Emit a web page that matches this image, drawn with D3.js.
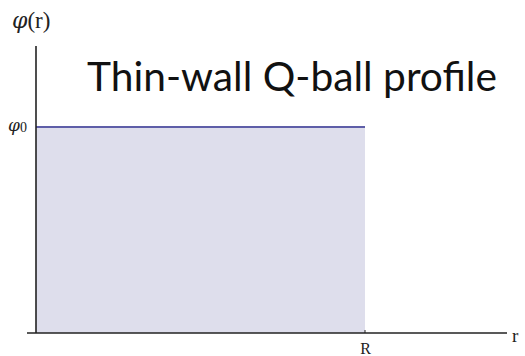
<!DOCTYPE html>
<html><head><meta charset="utf-8">
<script src="https://cdn.jsdelivr.net/npm/d3@7"></script>
<style>html,body{margin:0;padding:0;background:#fff;}svg{display:block;}</style>
</head><body>
<script>
// Data
const profileR = [0, 1];        // r values (units of R)
const profilePhi = [1, 1];      // φ(r) in units of φ0 (thin wall: constant inside, zero outside)
const xTickValues = [1];
const xTickLabels = ["R"];
const yTickValues = [1];
const yTickLabels = ["φ0"];
const title = "Thin-wall Q-ball profile";

const W = 525, H = 356;
const serif = "'Liberation Serif', 'DejaVu Serif', serif";
const phiFont = "'DejaVu Serif', serif";
const svg = d3.select("body").append("svg").attr("width", W).attr("height", H);

const x = d3.scaleLinear().domain([0, 1.4316]).range([36, 507]);
const y = d3.scaleLinear().domain([0, 1.393]).range([333, 46]);

const pts = profileR.map((r, i) => ({r, phi: profilePhi[i]}));

// fill
svg.append("path").datum(pts)
  .attr("d", d3.area().x(d => x(d.r)).y0(y(0)).y1(d => y(d.phi)))
  .attr("fill", "#dedeec");

// line
svg.append("path").datum(pts)
  .attr("d", d3.line().x(d => x(d.r)).y(d => y(d.phi)))
  .attr("fill", "none").attr("stroke", "#5e5ea8").attr("stroke-width", 2);

// axes
const xAxis = d3.axisBottom(x).tickValues(xTickValues).tickSize(0).tickFormat((d, i) => xTickLabels[i]);
const gx = svg.append("g").attr("transform", `translate(0,${y(0)})`).call(xAxis);
gx.select(".domain").remove();
gx.selectAll("text").attr("dy", 0).attr("y", 21)
  .attr("font-family", serif).attr("font-size", 16).attr("fill", "#222");
svg.append("line").attr("x1", 27).attr("x2", 507).attr("y1", y(0)).attr("y2", y(0))
  .attr("stroke", "#222").attr("stroke-width", 1.6);
xTickValues.forEach(v => svg.append("line").attr("x1", x(v)).attr("x2", x(v)).attr("y1", y(0) - 3).attr("y2", y(0))
  .attr("stroke", "#222").attr("stroke-width", 1));

const yAxis = d3.axisLeft(y).tickValues(yTickValues).tickSize(0).tickFormat(() => "");
const gy = svg.append("g").attr("transform", `translate(${x(0)},0)`).call(yAxis);
gy.select(".domain").remove();
svg.append("line").attr("x1", x(0)).attr("x2", x(0)).attr("y1", 46).attr("y2", y(0))
  .attr("stroke", "#222").attr("stroke-width", 1.6);

// y tick label φ0
yTickValues.forEach((v, i) => {
  const t = svg.append("text").attr("x", 8).attr("y", y(v) + 4).attr("fill", "#222");
  t.append("tspan").attr("font-family", phiFont).attr("font-size", 17).attr("font-style", "italic").text(yTickLabels[i].charAt(0));
  t.append("tspan").attr("font-family", serif).attr("font-size", 14).attr("dy", 1).text(yTickLabels[i].slice(1));
});

// axis labels
const yl = svg.append("text").attr("x", 12).attr("y", 28).attr("fill", "#222");
yl.append("tspan").attr("font-family", phiFont).attr("font-style", "italic").attr("font-size", 22).text("φ");
yl.append("tspan").attr("font-family", serif).attr("font-size", 23).text("(r)");
svg.append("text").attr("x", 512).attr("y", 342)
  .attr("font-family", serif).attr("font-size", 19).attr("fill", "#222")
  .text("r");

// title
const tt = svg.append("text").attr("x", 87).attr("y", 91)
  .attr("font-family", "Lato, 'Open Sans', sans-serif").attr("font-size", 40).attr("fill", "#111")
  .text(title);
const len = tt.node().getComputedTextLength();
tt.attr("font-size", 40 * 410 / len);
</script>
</body></html>
